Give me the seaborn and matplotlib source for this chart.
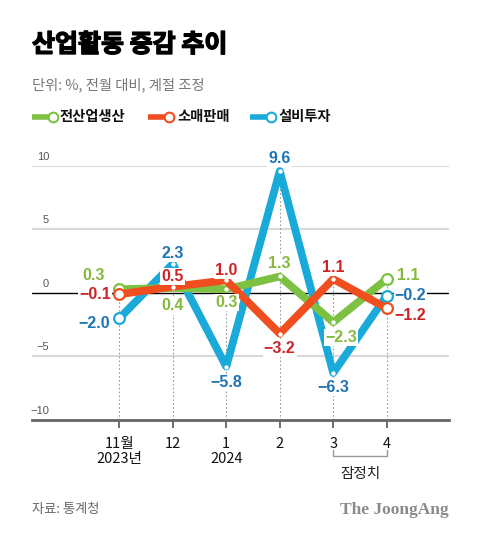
import numpy as np
import pandas as pd
import matplotlib
matplotlib.use("Agg")
import matplotlib.pyplot as plt
import matplotlib.patheffects as pe
from matplotlib.lines import Line2D
import seaborn as sns

# ---- data ----
months = ["11월\n2023년", "12", "1\n2024", "2", "3", "4"]
series_names = ["전산업생산", "소매판매", "설비투자"]
production = [0.3, 0.4, 0.3, 1.3, -2.3, 1.1]
retail = [-0.1, 0.5, 1.0, -3.2, 1.1, -1.2]
investment = [-2.0, 2.3, -5.8, 9.6, -6.3, -0.2]
yticks = [10, 5, 0, -5, -10]

# ---- style ----
sns.set_theme(style="white")
plt.rcParams["font.family"] = ["Noto Sans CJK KR", "DejaVu Sans"]
NUMFONT = ["Liberation Sans", "DejaVu Sans"]

line_col = {"전산업생산": "#7dc142", "소매판매": "#f04e1f", "설비투자": "#1aaad9"}
lab_col = {"전산업생산": "#86b940", "소매판매": "#cc2427", "설비투자": "#1f74b3"}

W, H = 480, 541
fig = plt.figure(figsize=(W / 100, H / 100), dpi=100)
fig.patch.set_facecolor("white")

px_left, px_right, px_top, px_bot = 32, 449, 166, 420
ax = fig.add_axes([px_left / W, 1 - px_bot / H, (px_right - px_left) / W, (px_bot - px_top) / H])
ax.set_facecolor("white")

x = np.arange(len(months))
x0, step = 119.3, 53.48
ax.set_xlim((px_left - x0) / step, (px_right - x0) / step)
ax.set_ylim(-10, 10)

df = pd.DataFrame({
    "idx": np.tile(x, 3),
    "value": production + retail + investment,
    "series": np.repeat(series_names, len(x)),
})

# gridlines
for v in [10, 5, -5]:
    ax.axhline(v, color="#d9d9d9", lw=1.5, zorder=0)
ax.axhline(0, color="black", lw=1.0, zorder=1)

# vertical dotted guides
vals = np.array([production, retail, investment])
for i in x:
    ax.plot([i, i], [-10, vals[:, i].max()], ls=(0, (1.5, 2)), color="#9a9a9a", lw=0.8, zorder=1)

# lines, in drawing order blue, green, red
order = ["설비투자", "전산업생산", "소매판매"]
for k, name in enumerate(order):
    sub = df[df["series"] == name]
    sns.lineplot(data=sub, x="idx", y="value", color=line_col[name], lw=5.6, ax=ax,
                 legend=False, sort=False, zorder=3 + k * 0.1)
    mid = sub.iloc[1:-1]
    ends = sub.iloc[[0, -1]]
    sns.scatterplot(data=mid, x="idx", y="value", color="white", s=10, edgecolor="white",
                    linewidth=0, ax=ax, legend=False, zorder=3.05 + k * 0.1)
    sns.scatterplot(data=ends, x="idx", y="value", color="white", s=60,
                    edgecolor=line_col[name], linewidth=1.6, ax=ax, legend=False,
                    zorder=3.06 + k * 0.1)

# data labels: (dx, dy) pixel offsets and alignment
offsets = {
    "전산업생산": [(-26, 14, "center"), (0, -18, "center"), (0, -13, "center"),
                (0, 13, "center"), (8, -15, "center"), (10, 4, "left")],
    "소매판매": [(-8, 0, "right"), (0, 10, "center"), (0, 10, "center"),
              (0, -15, "center"), (0, 12, "center"), (8, -7, "left")],
    "설비투자": [(-9, -5, "right"), (0, 10, "center"), (0, -16, "center"),
              (0, 13, "center"), (0, -14, "center"), (8, 0, "left")],
}
data_map = {"전산업생산": production, "소매판매": retail, "설비투자": investment}

def fmt(v):
    s = f"{abs(v):.1f}"
    return ("−" + s) if v < 0 else s

for name in series_names:
    for i, v in enumerate(data_map[name]):
        dx, dy, ha = offsets[name][i]
        ax.annotate(fmt(v), xy=(i, v), xytext=(dx, dy), textcoords="offset pixels",
                    ha=ha, va="center", fontsize=11.5, fontweight="bold",
                    family=NUMFONT, color=lab_col[name], zorder=10, annotation_clip=False,
                    bbox=dict(facecolor="white", edgecolor="none", pad=0.8))

# y tick labels above gridlines
xl = (49 - x0) / step
for v in yticks:
    lab = ("−" + str(abs(v))) if v < 0 else str(v)
    ax.annotate(lab, xy=(xl, v), xytext=(0, 9), textcoords="offset pixels",
                ha="right", va="center", fontsize=8, color="#555555",
                family=NUMFONT, annotation_clip=False)

# axes styling
for s in ["top", "right", "left"]:
    ax.spines[s].set_visible(False)
ax.spines["bottom"].set_color("#666666")
ax.spines["bottom"].set_linewidth(2)
ax.set_yticks([])
ax.set_xticks(x)
ax.set_xticklabels(months, fontsize=10.5, color="#111111", linespacing=1.1)
ax.tick_params(axis="x", length=6, width=1.2, color="#555555", pad=6, bottom=True)
ax.set_xlabel("")
ax.set_ylabel("")

# bracket for preliminary values
def py2d(py):
    return (293.3 - py) / 12.7

yb, yt = py2d(456), py2d(450)
ax.plot([4, 4, 5, 5], [yt, yb, yb, yt], color="#999999", lw=1, clip_on=False)
ax.text(4.5, py2d(474), "잠정치", ha="center", va="center", fontsize=10.5, color="#222222")

# title / subtitle
fig.text(32 / W, 1 - 45 / H, "산업활동 증감 추이", fontsize=18, fontweight="heavy",
         ha="left", va="center", color="black",
         path_effects=[pe.withStroke(linewidth=1.0, foreground="black")])
fig.text(32 / W, 1 - 85 / H, "단위: %, 전월 대비, 계절 조정", fontsize=10.3,
         ha="left", va="center", color="#777777")

# legend
leg = [("전산업생산", 32, 50, 60), ("소매판매", 148, 166, 177), ("설비투자", 250, 268, 278)]
ly = 1 - 117 / H
for name, xa, xb, xt in leg:
    fig.add_artist(Line2D([xa / W, xb / W], [ly, ly], transform=fig.transFigure,
                          color=line_col[name], lw=4.0, solid_capstyle="butt"))
    fig.add_artist(Line2D([(xb + 3) / W], [ly], transform=fig.transFigure, marker="o",
                          markersize=7, markerfacecolor="white",
                          markeredgecolor=line_col[name], markeredgewidth=1.5, lw=0))
    fig.text(xt / W, ly, name, fontsize=10.3, fontweight="bold", ha="left", va="center",
             color="#111111")

# footer
fig.text(32 / W, 1 - 510 / H, "자료: 통계청", fontsize=9.5, ha="left", va="center", color="#666666")
fig.text(449 / W, 1 - 510 / H, "The JoongAng", fontsize=12.5, fontweight="bold",
         family=["Liberation Serif", "DejaVu Serif"], ha="right", va="center", color="#8a8a8a")

fig.savefig("out.png", dpi=100, facecolor="white")
